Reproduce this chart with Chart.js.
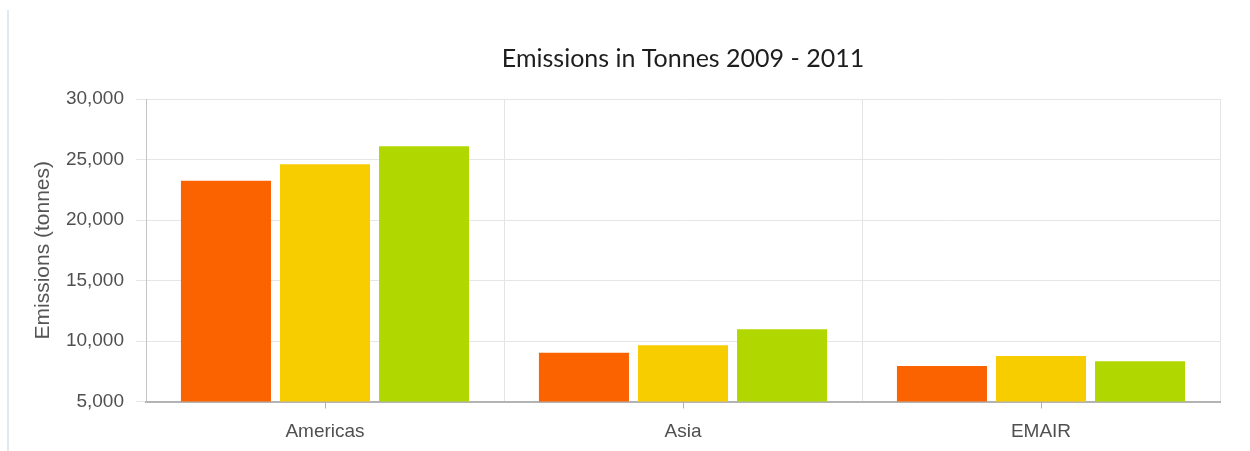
<!DOCTYPE html>
<html>
<head>
<meta charset="utf-8">
<script src="https://cdn.jsdelivr.net/npm/chart.js@4"></script>
<style>
  html, body { margin: 0; padding: 0; background: #ffffff; }
  #wrap { position: relative; width: 1250px; height: 451px; overflow: hidden; }
  #edge { position: absolute; left: 7px; top: 10px; width: 2px; height: 441px; background: #e2e8f0; }
  canvas { position: absolute; left: 0; top: 0; }
</style>
</head>
<body>
<div id="wrap">
  <div id="edge"></div>
  <canvas id="c" width="1250" height="451"></canvas>
</div>
<script>
const categories = ["Americas", "Asia", "EMAIR"];
const seriesNames = ["2009", "2010", "2011"];
const values2009 = [23250, 9030, 7930];
const values2010 = [24600, 9650, 8760];
const values2011 = [26100, 10970, 8320];
const yTicks = [5000, 10000, 15000, 20000, 25000, 30000];

const colors = ["#fb6300", "#f8cd00", "#b0d700"];
const CHART_LEFT = 146, CHART_BOTTOM = 401.5, PAD_LEFT = 20;

const centerTicks = {
  id: 'centerTicks',
  afterDatasetsDraw(chart) {
    const x = chart.scales.x;
    const ctx = chart.ctx;
    ctx.save();
    ctx.strokeStyle = '#b0b0b0';
    ctx.lineWidth = 1;
    categories.forEach((c, i) => {
      const px = Math.round(x.getPixelForValue(i)) + 0.5;
      ctx.beginPath();
      ctx.moveTo(px, x.top);
      ctx.lineTo(px, x.top + 7);
      ctx.stroke();
    });
    ctx.restore();
  }
};

new Chart(document.getElementById('c'), {
  type: 'bar',
  data: {
    labels: categories,
    datasets: [
      { label: seriesNames[0], data: values2009, backgroundColor: colors[0] },
      { label: seriesNames[1], data: values2010, backgroundColor: colors[1] },
      { label: seriesNames[2], data: values2011, backgroundColor: colors[2] }
    ]
  },
  options: {
    responsive: false,
    animation: false,
    devicePixelRatio: 1,
    layout: { padding: { left: PAD_LEFT, right: 30, top: 0, bottom: 0 } },
    datasets: { bar: { categoryPercentage: 0.83, barPercentage: 0.909, borderWidth: 0 } },
    plugins: {
      legend: { display: false },
      tooltip: { enabled: false },
      title: {
        display: true,
        fullSize: false,
        text: 'Emissions in Tonnes 2009 - 2011',
        color: '#1e1e1e',
        font: { family: 'Lato', size: 25, weight: 'normal', lineHeight: 1.2 },
        padding: { top: 44, bottom: 25 }
      }
    },
    scales: {
      x: {
        offset: true,
        grid: {
          offset: true,
          drawTicks: false,
          color: (ctx) => (ctx.index === 0 || ctx.index === categories.length) ? 'rgba(0,0,0,0)' : '#e4e4e4',
          lineWidth: 1
        },
        border: { display: true, color: '#b3b3b3', width: 2 },
        ticks: {
          color: '#505050',
          padding: 19,
          font: { family: 'Liberation Sans', size: 19 }
        },
        afterFit(scale) { scale.height = 451 - CHART_BOTTOM; }
      },
      y: {
        min: 5000,
        max: 30000,
        afterBuildTicks(scale) { scale.ticks = yTicks.map(v => ({ value: v })); },
        grid: { color: '#e6e6e6', tickLength: 10, lineWidth: 1 },
        border: { display: true, color: '#c4c4c4', width: 1 },
        ticks: {
          color: '#505050',
          padding: 12,
          font: { family: 'Liberation Sans', size: 19 },
          callback: (v) => Number(v).toLocaleString('en-US')
        },
        title: {
          display: true,
          text: 'Emissions (tonnes)',
          color: '#555555',
          font: { family: 'Liberation Sans', size: 21 },
          padding: { top: 11, bottom: 0 }
        },
        afterFit(scale) { scale.width = CHART_LEFT - PAD_LEFT; }
      }
    }
  },
  plugins: [centerTicks]
});
</script>
</body>
</html>
